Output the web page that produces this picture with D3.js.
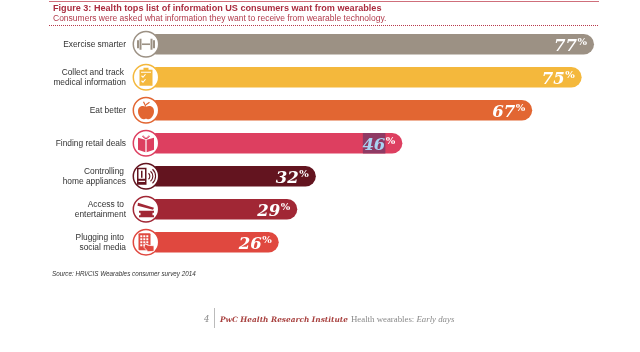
<!DOCTYPE html>
<html>
<head>
<meta charset="utf-8">
<script src="https://cdn.jsdelivr.net/npm/d3@7"></script>
<style>
  html, body { margin: 0; padding: 0; background: #fff; overflow: hidden; }
  svg { display: block; filter: blur(0.3px); }
</style>
</head>
<body>
<div id="chart"></div>
<script>
const categories = [
  "Exercise smarter",
  "Collect and track|medical information",
  "Eat better",
  "Finding retail deals",
  "Controlling|home appliances",
  "Access to|entertainment",
  "Plugging into|social media"
];
const values = [77, 75, 67, 46, 32, 29, 26];
const barColors = ["#9c9184", "#f4b83c", "#e26632", "#dd3f60", "#63141f", "#a12735", "#e0483f"];
const iconNames = ["dumbbell", "clipboard", "apple", "book", "fridge", "pot", "tablet"];
const highlighted = [46];

const titleText = "Figure 3: Health tops list of information US consumers want from wearables";
const subtitleText = "Consumers were asked what information they want to receive from wearable technology.";
const sourceText = "Source: HRI/CIS Wearables consumer survey 2014";

const sans = "'Liberation Sans', Arial, sans-serif";
const serif = "'DejaVu Serif', Georgia, serif";
const iconX = 146;

const svg = d3.select("#chart")
  .append("svg")
  .attr("width", 640)
  .attr("height", 352)
  .attr("viewBox", "0 0 640 352");

const x = d3.scaleLinear().domain([0, 77]).range([118, 594]);
const y = d3.scaleBand()
  .domain(categories)
  .range([34, 252.5])
  .paddingInner(0.38)
  .paddingOuter(0);
const color = d3.scaleOrdinal().domain(categories).range(barColors);

const rows = categories.map((c, i) => ({ category: c, value: values[i], icon: iconNames[i] }));

// Header
svg.append("line")
  .attr("x1", 49).attr("x2", 599).attr("y1", 1.5).attr("y2", 1.5)
  .style("stroke", "#cf6f7b").style("stroke-width", 1);

svg.append("text")
  .attr("x", 53).attr("y", 11.3)
  .style("font-family", sans).style("font-size", "9.1px").style("font-weight", "bold")
  .style("fill", "#a92c3f")
  .text(titleText);

svg.append("text")
  .attr("x", 53).attr("y", 21.3)
  .style("font-family", sans).style("font-size", "8.5px")
  .style("fill", "#b03a4b")
  .text(subtitleText);

svg.append("line")
  .attr("x1", 49).attr("x2", 599).attr("y1", 25.5).attr("y2", 25.5)
  .style("stroke", "#b8394b").style("stroke-width", 1).style("stroke-dasharray", "1,1");

// Category labels, split over two lines where the source does
const axis = svg.append("g")
  .attr("transform", "translate(126,0)")
  .call(d3.axisLeft(y).tickSize(0).tickPadding(0));
axis.select(".domain").remove();
axis.selectAll("text").each(function (d) {
  const lines = d.split("|");
  const label = d3.select(this)
    .text(null)
    .attr("dy", null)
    .style("font-family", sans)
    .style("font-size", "8.4px")
    .style("fill", "#333");
  lines.forEach((line, i) => {
    label.append("tspan")
      .attr("x", lines.length > 1 && i === 0 ? -2 : 0)
      .attr("y", lines.length > 1 ? (i === 0 ? -2.2 : 8) : 3)
      .text(line);
  });
});

// Bars
const rowG = svg.selectAll(".row")
  .data(rows)
  .enter()
  .append("g")
  .attr("class", "row");

rowG.append("rect")
  .attr("x", iconX)
  .attr("y", d => y(d.category))
  .attr("width", d => x(d.value) - iconX)
  .attr("height", y.bandwidth())
  .attr("rx", y.bandwidth() / 2)
  .style("fill", d => color(d.category));

// Selection highlight that sits on the 46% figure
rowG.filter(d => highlighted.includes(d.value))
  .append("rect")
  .attr("x", d => x(d.value) - 39.5)
  .attr("y", d => y(d.category))
  .attr("width", 22.5)
  .attr("height", y.bandwidth())
  .style("fill", "#8f3a64");

rowG.append("text")
  .attr("x", d => x(d.value) - 17)
  .attr("y", d => y(d.category) + y.bandwidth() / 2 + 6.5)
  .attr("text-anchor", "end")
  .style("font-family", serif)
  .style("font-size", "16.5px")
  .style("font-weight", "bold")
  .style("font-style", "italic")
  .style("fill", d => highlighted.includes(d.value) ? "#a9d4f2" : "#fff")
  .text(d => d.value);

rowG.append("text")
  .attr("x", d => x(d.value) - 16.5)
  .attr("y", d => y(d.category) + y.bandwidth() / 2 + 0.5)
  .style("font-family", serif)
  .style("font-size", "10px")
  .style("font-weight", "bold")
  .style("fill", "#fff")
  .text("%");

// Icons
const icons = {
  dumbbell(g, c) {
    [[-9, 8], [-6.5, 11], [4.5, 11], [7, 8]].forEach(p => {
      g.append("rect").attr("x", p[0]).attr("y", -p[1] / 2).attr("width", 2).attr("height", p[1]).style("fill", c);
    });
    g.append("rect").attr("x", -4).attr("y", -0.8).attr("width", 8).attr("height", 1.6).style("fill", c);
  },
  clipboard(g, c) {
    g.append("rect").attr("x", -6.5).attr("y", -7.5).attr("width", 13).attr("height", 16).style("fill", c);
    g.append("rect").attr("x", -2.5).attr("y", -9.5).attr("width", 5).attr("height", 3).style("fill", c);
    g.append("rect").attr("x", -5).attr("y", -5.5).attr("width", 10).attr("height", 1).style("fill", "#fff");
    g.append("path").attr("d", "M-4.5,-1.5l1.5,1.5l2.5,-3M-4.5,3.5l1.5,1.5l2.5,-3")
      .style("fill", "none").style("stroke", "#fff").style("stroke-width", 1.1);
  },
  apple(g, c) {
    g.append("path")
      .attr("d", "M0,-3.2C3,-5.2 8,-4.2 8,1C8,5.5 4.5,9 2.5,9C1.2,9 0.8,8.4 0,8.4C-0.8,8.4 -1.2,9 -2.5,9C-4.5,9 -8,5.5 -8,1C-8,-4.2 -3,-5.2 0,-3.2Z")
      .style("fill", c);
    g.append("path").attr("d", "M0,-3.5L-2.5,-8.5M0,-5.5L3.5,-8")
      .style("fill", "none").style("stroke", c).style("stroke-width", 1.2);
  },
  book(g, c) {
    g.append("path").attr("d", "M-0.6,-3.5L-8,-5.5V6.5L-0.6,9Z").style("fill", c);
    g.append("path").attr("d", "M0.6,-3.5L8,-5.5V6.5L0.6,9Z").style("fill", c);
    g.append("path").attr("d", "M0,-4.5C-4,-10 -5,-6 0,-4.5C5,-6 4,-10 0,-4.5")
      .style("fill", "none").style("stroke", c).style("stroke-width", 1);
  },
  fridge(g, c) {
    g.append("rect").attr("x", -9).attr("y", -8.5).attr("width", 9.5).attr("height", 17).style("fill", c);
    g.append("rect").attr("x", -7.5).attr("y", -7).attr("width", 6.5).attr("height", 9.5).style("fill", "#fff");
    g.append("rect").attr("x", -5).attr("y", -5.5).attr("width", 1.5).attr("height", 7).style("fill", c);
    g.append("rect").attr("x", -7.5).attr("y", 4.5).attr("width", 6.5).attr("height", 1.2).style("fill", "#fff");
    g.append("path").attr("d", "M2.5,-3A4,4 0 0 1 2.5,3M4.5,-5A6.5,6.5 0 0 1 4.5,5M6.5,-7A9.5,9.5 0 0 1 6.5,7")
      .style("fill", "none").style("stroke", c).style("stroke-width", 1.1);
  },
  pot(g, c) {
    g.append("path").attr("d", "M-8,-6.5L8,-1.5L7,0.5L-8.5,-3.5Z").style("fill", c);
    g.append("path").attr("d", "M-7,1.5H8V3.5H6.5V6H8V8H-7V6H-5.5V3.5H-7Z").style("fill", c);
  },
  tablet(g, c) {
    g.append("rect").attr("x", -7.5).attr("y", -9).attr("width", 12).attr("height", 17).attr("rx", 1).style("fill", c);
    d3.range(4).forEach(r => d3.range(3).forEach(k => {
      g.append("rect").attr("x", -5.7 + k * 3).attr("y", -7 + r * 3).attr("width", 2).attr("height", 2).style("fill", "#fff");
    }));
    g.append("path").attr("d", "M-1,1.5L2,3L8,3.5V9L2,9.5L-2,5Z")
      .style("fill", c).style("stroke", "#fff").style("stroke-width", 0.8);
  }
};

rowG.each(function (d) {
  const c = color(d.category);
  const g = d3.select(this).append("g")
    .attr("transform", `translate(${iconX},${y(d.category) + y.bandwidth() / 2})`);
  g.append("circle").attr("r", 12.7).style("fill", "#fff").style("stroke", c).style("stroke-width", 1.5);
  icons[d.icon](g, c);
});

// Source and footer
svg.append("text")
  .attr("x", 52).attr("y", 275.5)
  .style("font-family", sans).style("font-size", "6.3px").style("font-style", "italic")
  .style("fill", "#333")
  .text(sourceText);

svg.append("text")
  .attr("x", 204).attr("y", 322)
  .style("font-family", serif).style("font-size", "8.5px").style("font-style", "italic")
  .style("fill", "#888")
  .text("4");

svg.append("line")
  .attr("x1", 214.5).attr("x2", 214.5).attr("y1", 308).attr("y2", 328)
  .style("stroke", "#bbb").style("stroke-width", 1);

svg.append("text")
  .attr("x", 220).attr("y", 322)
  .style("font-family", serif).style("font-size", "7.4px").style("font-weight", "bold").style("font-style", "italic")
  .style("fill", "#a8413f")
  .text("PwC Health Research Institute");

const tail = svg.append("text")
  .attr("x", 351).attr("y", 322)
  .style("font-family", "'Liberation Serif', Georgia, serif").style("font-size", "8.8px")
  .style("fill", "#8a8a8a");
tail.append("tspan").text("Health wearables: ");
tail.append("tspan").style("font-style", "italic").text("Early days");
</script>
</body>
</html>
